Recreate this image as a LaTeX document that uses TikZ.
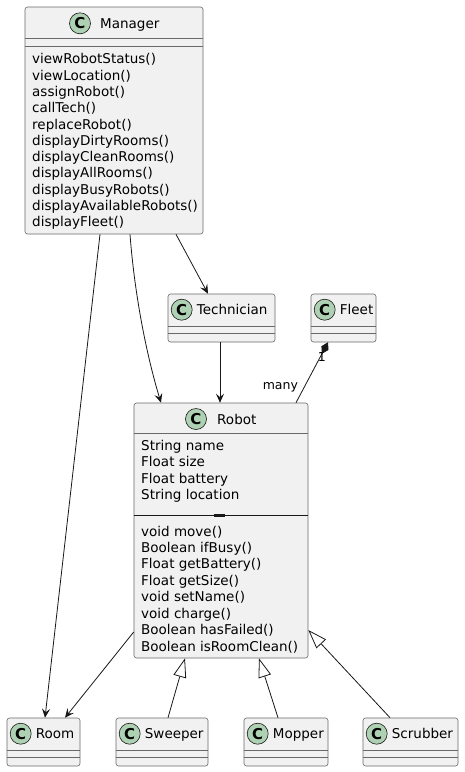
\documentclass[tikz,border=0pt]{standalone}
\usepackage{fontspec}
\setmainfont{DejaVu Sans}
\definecolor{boxfill}{HTML}{F1F1F1}
\definecolor{umlline}{HTML}{181818}
\definecolor{iconfill}{HTML}{ADD1B2}
\usetikzlibrary{positioning,arrows.meta}

\begin{document}
\begin{tikzpicture}[x=1pt,y=-1pt,
    every node/.style={inner sep=0pt},
    cls/.style={draw=umlline!65,fill=boxfill,line width=0.6pt,rounded corners=2.5pt},
    sep/.style={draw=umlline!65,line width=0.6pt},
    icon/.style={circle,draw=umlline,fill=iconfill,line width=0.6pt,minimum size=21pt,font=\fontsize{15}{15}\selectfont\bfseries},
    title/.style={anchor=base west,font=\fontsize{13.5}{16}\selectfont},
    member/.style={anchor=base west,font=\fontsize{13.5}{16}\selectfont},
    assoc/.style={draw=umlline,line width=0.8pt,-{Stealth[length=9pt,width=8pt,inset=3.5pt]}},
    gen/.style={draw=umlline,line width=0.8pt,-{Triangle[open,length=19pt,width=13pt,fill=white]}},
    comp/.style={draw=umlline,line width=0.8pt,{Diamond[length=13pt,width=8pt]}-},
    mult/.style={font=\fontsize{12.5}{14}\selectfont}
    ]
    \useasboundingbox[fill=white] (0,0) rectangle (464,772);

    % the classes
    \node[cls,minimum width=178pt,minimum height=227pt] (mgr) at (114,120.5) {};
    \node[cls,minimum width=107pt,minimum height=48pt] (tech) at (221.5,318) {};
    \node[cls,minimum width=65pt,minimum height=48pt] (fleet) at (343.5,318) {};
    \node[cls,minimum width=174pt,minimum height=255pt] (robot) at (221,530.5) {};
    \node[cls,minimum width=73pt,minimum height=48pt] (room) at (43.5,742) {};
    \node[cls,minimum width=92pt,minimum height=48pt] (sweep) at (162,742) {};
    \node[cls,minimum width=84pt,minimum height=48pt] (mop) at (286,742) {};
    \node[cls,minimum width=95pt,minimum height=48pt] (scrub) at (410.5,742) {};

    % headers
    \node[icon] (mgrI) at (80,23.3) {C};
    \node[title] (mgrT) at (100,28.3) {Manager};
    \node[icon] (robotI) at (196,419) {C};
    \node[title] (robotT) at (217,424) {Robot};
    \foreach \c/\t in {tech/Technician,fleet/Fleet,room/Room,sweep/Sweeper,mop/Mopper,scrub/Scrubber}{
      \node[icon] (\c I) at ([xshift=14pt,yshift=-16pt]\c.north west) {C};
      \node[title] (\c T) at ([xshift=29pt,yshift=-21pt]\c.north west) {\t};
    }

    % compartments
    \draw[sep] ([yshift=-32pt]mgr.north west) -- ([yshift=-32pt]mgr.north east);
    \draw[sep] ([yshift=-40pt]mgr.north west) -- ([yshift=-40pt]mgr.north east);
    \draw[sep] ([yshift=-31pt]robot.north west) -- ([yshift=-31pt]robot.north east);
    \draw[umlline,line width=1pt] ([yshift=-112.5pt]robot.north west) -- ([yshift=-112.5pt]robot.north east);
    \fill[umlline] (214,514) rectangle (225,516.5);
    \foreach \c in {tech,fleet,room,sweep,mop,scrub}{
      \draw[sep] ([yshift=-33pt]\c.north west) -- ([yshift=-33pt]\c.north east);
      \draw[sep] ([yshift=-40pt]\c.north west) -- ([yshift=-40pt]\c.north east);
    }

    % members
    \foreach \m [count=\i from 0] in {viewRobotStatus(),viewLocation(),assignRobot(),callTech(),replaceRobot(),displayDirtyRooms(),displayCleanRooms(),displayAllRooms(),displayBusyRobots(),displayAvailableRobots(),displayFleet()}
      \node[member] (mgrM\i) at (32,{63.8+16.3*\i}) {\m};
    \foreach \m [count=\i from 0] in {String name,Float size,Float battery,String location}
      \node[member] (robotA\i) at (141,{450.5+16.4*\i}) {\m};
    \foreach \m [count=\i from 0] in {void move(),Boolean ifBusy(),Float getBattery(),Float getSize(),void setName(),void charge(),Boolean hasFailed(),Boolean isRoomClean()}
      \node[member] (robotM\i) at (141,{536+16.45*\i}) {\m};

    % the edges
    \draw[assoc] ([xshift=-14pt]mgr.south) -- ([xshift=1.5pt]room.north);
    \draw[assoc] ([xshift=16pt]mgr.south) .. controls (135,300) and (148,360) .. ([xshift=-60pt]robot.north);
    \draw[assoc] ([xshift=62pt]mgr.south) -- ([xshift=-13.5pt]tech.north);
    \draw[assoc] ([xshift=-1.5pt]tech.south) -- ([xshift=-1pt]robot.north);
    \draw[comp] ([xshift=-15.5pt]fleet.south) -- ([xshift=75pt]robot.north)
      node[mult,pos=0.24,xshift=1.5pt] (one) {1}
      node[mult,pos=0.74,anchor=east,xshift=-6pt] (many) {many};
    \draw[assoc] ([yshift=-101.5pt]robot.west) -- ([xshift=21.5pt]room.north);
    \draw[gen] ([xshift=6pt]sweep.north) -- ([xshift=-36pt]robot.south);
    \draw[gen] ([xshift=-8pt]mop.north) -- ([xshift=38pt]robot.south);
    \draw[gen] ([xshift=-20.5pt]scrub.north) -- ([yshift=-99.5pt]robot.east);
\end{tikzpicture}
\end{document}
